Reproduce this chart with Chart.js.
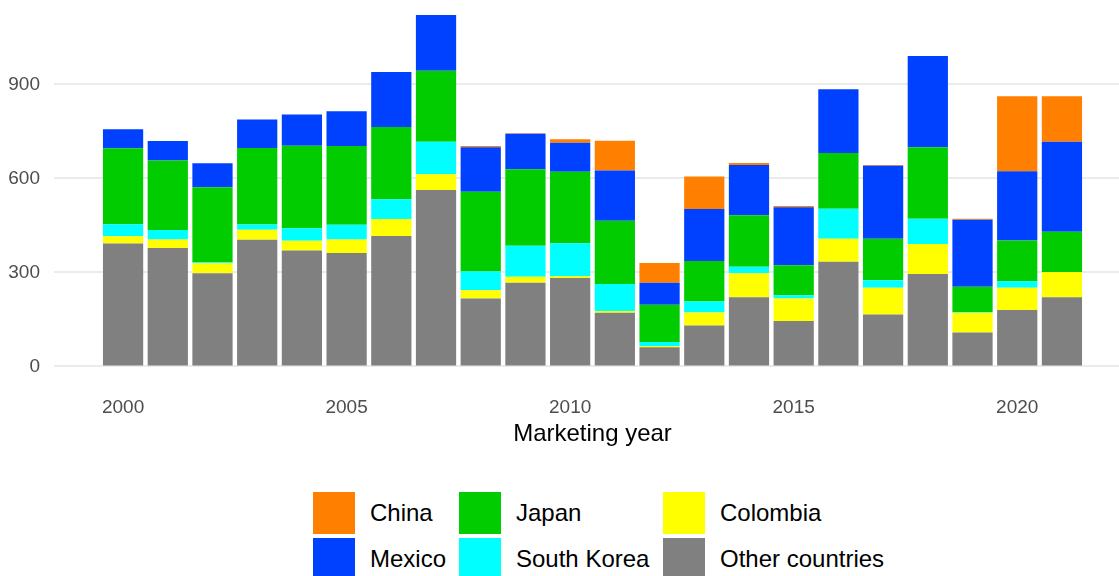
<!DOCTYPE html>
<html>
<head>
<meta charset="utf-8">
<script src="https://cdn.jsdelivr.net/npm/chart.js@4.4.1/dist/chart.umd.min.js"></script>
<style>
  body { margin: 0; background: #fff; }
  #wrap { position: relative; width: 1119px; height: 576px; overflow: hidden; }
  #chart { position: absolute; left: 0; top: 0; }
  #legend {
    position: absolute; left: 313px; top: 492px;
    display: grid; grid-template-columns: 146px 204px auto; row-gap: 4px;
    font-family: "Liberation Sans", Arial, sans-serif; font-size: 24px; color: #000;
  }
  .item { display: flex; align-items: center; height: 42px; line-height: 42px; }
  .key { width: 42px; height: 42px; margin-right: 15px; flex: none; }
</style>
</head>
<body>
<div id="wrap">
  <canvas id="chart" width="1138" height="460"></canvas>
  <div id="legend"></div>
</div>
<script>
const years = [2000, 2001, 2002, 2003, 2004, 2005, 2006, 2007, 2008, 2009, 2010,
  2011, 2012, 2013, 2014, 2015, 2016, 2017, 2018, 2019, 2020, 2021];

// stacked bottom to top
const other = [392, 378, 297, 404, 370, 362, 416, 563, 217, 267, 282, 171, 61, 131, 221, 145, 334, 166, 295, 108, 180, 221];
const colombia = [23, 27, 32, 32, 31, 43, 54, 50, 26, 19, 6, 6, 4, 41, 76, 72, 73, 85, 96, 63, 71, 80];
const southKorea = [39, 30, 3, 17, 40, 47, 63, 104, 60, 99, 105, 86, 13, 35, 21, 10, 96, 24, 80, 2, 21, 0];
const japan = [242, 222, 240, 244, 263, 251, 231, 226, 254, 244, 228, 202, 119, 129, 164, 96, 178, 132, 228, 81, 130, 129];
const mexico = [61, 62, 76, 91, 100, 111, 175, 178, 142, 113, 93, 160, 70, 166, 161, 185, 203, 233, 291, 214, 221, 287];
const china = [0, 0, 0, 0, 0, 0, 0, 0, 4, 2, 11, 95, 63, 104, 6, 4, 0, 3, 0, 3, 239, 145];

const yTicks = [0, 300, 600, 900];
const xTicks = [2000, 2005, 2010, 2015, 2020];
const legendOrder = ['China', 'Japan', 'Colombia', 'Mexico', 'South Korea', 'Other countries'];

const font = "'Liberation Sans', Arial, sans-serif";

function series(label, values, color) {
  return {
    label,
    data: values.map((v, i) => ({ x: years[i], y: v })),
    backgroundColor: color,
    borderWidth: 0,
    categoryPercentage: 0.9,
    barPercentage: 1
  };
}

const chart = new Chart(document.getElementById('chart'), {
  type: 'bar',
  data: {
    datasets: [
      series('Other countries', other, '#808080'),
      series('Colombia', colombia, '#ffff00'),
      series('South Korea', southKorea, '#00ffff'),
      series('Japan', japan, '#00cc00'),
      series('Mexico', mexico, '#0040ff'),
      series('China', china, '#ff8000')
    ]
  },
  options: {
    responsive: false,
    animation: false,
    layout: { padding: { left: 0, right: 7, top: 0, bottom: 0 } },
    plugins: { legend: { display: false }, tooltip: { enabled: false } },
    scales: {
      x: {
        type: 'linear',
        stacked: true,
        offset: false,
        min: 1998.455,
        max: 2022.545,
        grid: { display: false, offset: false },
        border: { display: false },
        afterBuildTicks: s => { s.ticks = xTicks.map(v => ({ value: v })); },
        ticks: {
          padding: 4,
          color: '#4d4d4d',
          font: { family: font, size: 19 },
          callback: v => String(v)
        },
        title: {
          display: true,
          text: 'Marketing year',
          color: '#000',
          font: { family: font, size: 24 },
          padding: { top: 0, bottom: 11 }
        },
        afterFit: s => { s.height = 76; s.paddingLeft = 0; s.paddingRight = 0; }
      },
      y: {
        stacked: true,
        min: -56,
        max: 1169,
        grid: { color: '#ebebeb', lineWidth: 2, drawTicks: false },
        border: { display: false },
        afterBuildTicks: s => { s.ticks = yTicks.map(v => ({ value: v })); },
        ticks: {
          padding: 14,
          color: '#4d4d4d',
          font: { family: font, size: 19 },
          callback: v => String(v)
        },
        afterFit: s => { s.width = 54; s.paddingTop = 0; s.paddingBottom = 0; }
      }
    }
  }
});

// html legend, laid out in the same grid as the reference
const legend = document.getElementById('legend');
legendOrder.forEach(name => {
  const ds = chart.data.datasets.find(d => d.label === name);
  const item = document.createElement('div');
  item.className = 'item';
  const key = document.createElement('span');
  key.className = 'key';
  key.style.background = ds.backgroundColor;
  const text = document.createElement('span');
  text.textContent = name;
  item.appendChild(key);
  item.appendChild(text);
  legend.appendChild(item);
});
</script>
</body>
</html>
